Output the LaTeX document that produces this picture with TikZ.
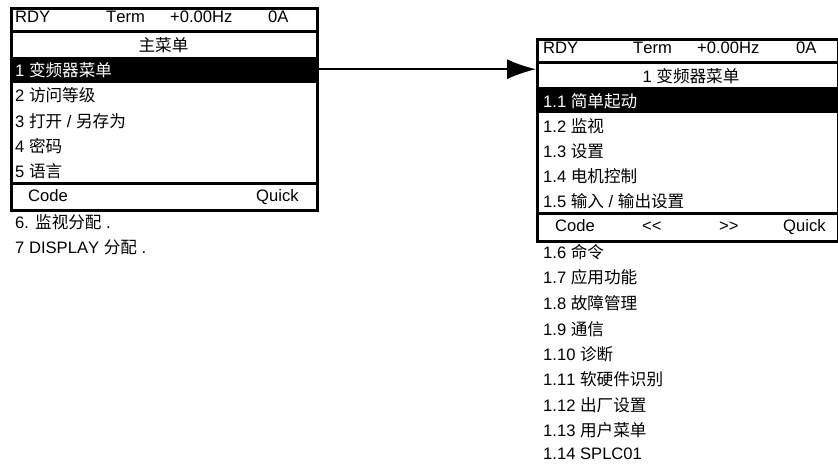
\documentclass[tikz,border=0pt]{standalone}
\usepackage{fontspec}
\setmainfont[Kerning=Off]{Liberation Sans}
\newfontfamily\cjk{Noto Sans CJK SC}
\usetikzlibrary{arrows.meta}
\newcommand{\zh}[1]{{\cjk #1}}
\tikzset{
  lbl/.style={anchor=base west,inner sep=0pt,font=\fontsize{16.6}{18}\selectfont,text=black},
  lblc/.style={lbl,anchor=base},
  inv/.style={lbl,text=white},
  frame/.style={draw=black,line width=3pt,anchor=north west,inner sep=0pt,minimum width=#1,minimum height=202pt},
  band/.style={fill=black,anchor=north west,inner sep=0pt,minimum width=#1,minimum height=26pt},
  sep/.style={draw=black,line width=2.8pt},
  link/.style={draw=black,line width=1.5pt,-{Latex[length=29pt,width=20pt]}}
}
\begin{document}
\begin{tikzpicture}[x=1pt,y=-1pt]
\useasboundingbox (0,0) rectangle (838,464);
% left panel
\node[band=306pt] (lband) at (10,57) {};
\node[frame=306pt] (lframe) at (10,6.5) {};
\draw[sep] (lframe.west |- 0,31.5) -- (lframe.east |- 0,31.5);
\draw[sep] (lframe.west |- 0,183.5) -- (lframe.east |- 0,183.5);
\node[lbl] (l1) at (15,22.7) {RDY};
\node[lbl] (l2) at (106,22.7) {Term};
\node[lbl] (l3) at (170,22.7) {+0.00Hz};
\node[lbl] (l4) at (268,22.7) {0A};
\node[lblc] (lt) at (163.5,51) {\zh{主菜单}};
\node[inv] (la) at (15,76.5) {1 \zh{变频器菜单}};
\node[lbl] (lb) at (15,101.5) {2 \zh{访问等级}};
\node[lbl] (lc) at (15,127) {3 \zh{打开} / \zh{另存为}};
\node[lbl] (ld) at (15,152) {4 \zh{密码}};
\node[lbl] (le) at (15,177) {5 \zh{语言}};
\node[lbl] (lf) at (28,201) {Code};
\node[lbl] (lg) at (256,201) {Quick};
\node[lbl] (lh) at (15,228) {6. \zh{监视分配} .};
\node[lbl] (li) at (15,253) {7 DISPLAY \zh{分配} .};
% right panel
\node[band=302pt] (rband) at (536,87) {};
\node[frame=301pt] (rframe) at (536,37.5) {};
\draw[sep] (rframe.west |- 0,62.5) -- (rframe.east |- 0,62.5);
\draw[sep] (rframe.west |- 0,213.5) -- (rframe.east |- 0,213.5);
\node[lbl] (r1) at (543,53) {RDY};
\node[lbl] (r2) at (633,53) {Term};
\node[lbl] (r3) at (697,53) {+0.00Hz};
\node[lbl] (r4) at (796,53) {0A};
\node[lblc] (rt) at (691,82) {1 \zh{变频器菜单}};
\node[inv] (ra) at (543,107) {1.1 \zh{简单起动}};
\node[lbl] (rb) at (543,132) {1.2 \zh{监视}};
\node[lbl] (rc) at (543,157) {1.3 \zh{设置}};
\node[lbl] (rd) at (543,182) {1.4 \zh{电机控制}};
\node[lbl] (re) at (543,207) {1.5 \zh{输入} / \zh{输出设置}};
\node[lbl] (rf) at (555,231) {Code};
\node[lbl] (rg) at (642,231) {<{}<};
\node[lbl] (rh) at (719,231) {>{}>};
\node[lbl] (ri) at (783,231) {Quick};
\node[lbl] (rj) at (543,258) {1.6 \zh{命令}};
\node[lbl] (rk) at (543,283) {1.7 \zh{应用功能}};
\node[lbl] (rl) at (543,309) {1.8 \zh{故障管理}};
\node[lbl] (rm) at (543,335) {1.9 \zh{通信}};
\node[lbl] (rn) at (543,360) {1.10 \zh{诊断}};
\node[lbl] (ro) at (543,385) {1.11 \zh{软硬件识别}};
\node[lbl] (rp) at (543,411) {1.12 \zh{出厂设置}};
\node[lbl] (rq) at (543,436) {1.13 \zh{用户菜单}};
\node[lbl] (rr) at (543,459) {1.14 SPLC01};
% connector
\coordinate (lstart) at ([yshift=1pt]lband.east);
\draw[link] (lstart) -- (lstart -| rframe.west);
\end{tikzpicture}
\end{document}
